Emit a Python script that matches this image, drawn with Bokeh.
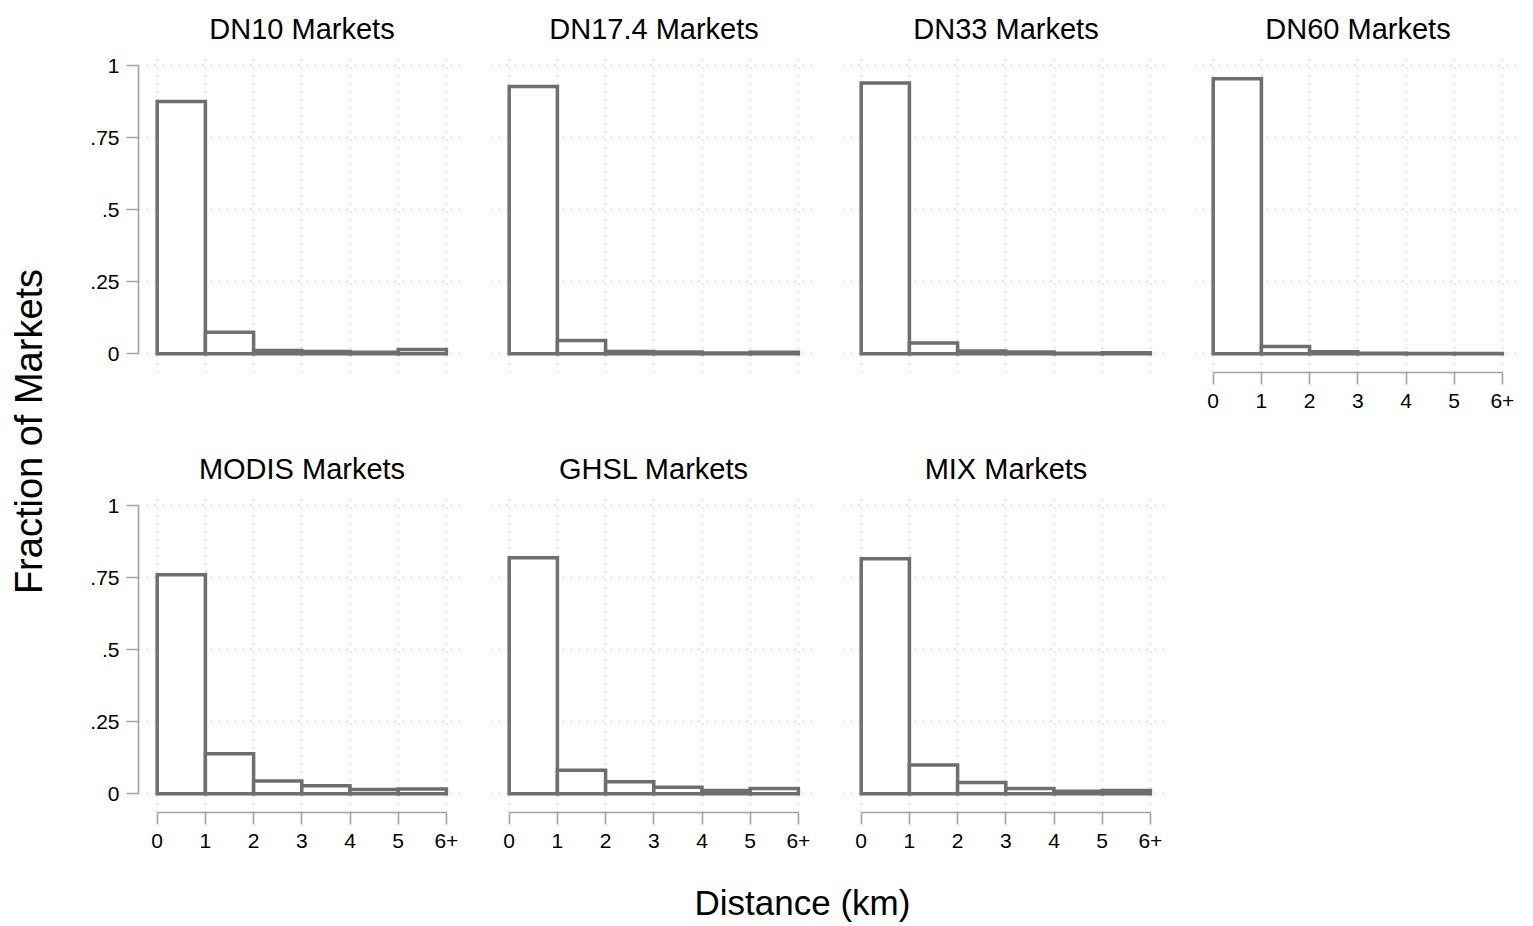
import math

from bokeh.embed import file_html
from bokeh.layouts import column, row
from bokeh.models import FixedTicker, Label, Range1d
from bokeh.plotting import figure
from bokeh.resources import INLINE

# ---- data -------------------------------------------------------------
panel_titles = ["DN10 Markets", "DN17.4 Markets", "DN33 Markets", "DN60 Markets",
                "MODIS Markets", "GHSL Markets", "MIX Markets"]
bin_edges = [0, 1, 2, 3, 4, 5, 6]
x_tick_labels = ["0", "1", "2", "3", "4", "5", "6+"]
y_ticks = [0, 0.25, 0.5, 0.75, 1]
y_tick_labels = ["0", ".25", ".5", ".75", "1"]

# fraction of markets in each 1 km distance bin (last bin = 5 km and beyond)
dn10_frac = [0.876, 0.075, 0.011, 0.008, 0.005, 0.015]
dn17_frac = [0.928, 0.046, 0.008, 0.006, 0.003, 0.005]
dn33_frac = [0.940, 0.037, 0.010, 0.006, 0.002, 0.004]
dn60_frac = [0.955, 0.025, 0.007, 0.002, 0.001, 0.001]
modis_frac = [0.760, 0.139, 0.044, 0.028, 0.015, 0.017]
ghsl_frac = [0.819, 0.082, 0.042, 0.023, 0.011, 0.018]
mix_frac = [0.816, 0.100, 0.039, 0.018, 0.009, 0.011]

y_axis_title = "Fraction of Markets"
x_axis_title = "Distance (km)"

# ---- style ------------------------------------------------------------
FONT = "Liberation Sans"
BAR_COLOR = "#6e6e6e"
AXIS_COLOR = "#a3a3a3"
GRID_COLOR = "#b8b8b8"
FRAME_W, FRAME_H = 327, 318
COL_GAP = 25


def style_axis(ax, ticks, labels, bounds):
    ax.ticker = FixedTicker(ticks=ticks)
    ax.major_label_overrides = {t: s for t, s in zip(ticks, labels)}
    ax.bounds = bounds
    ax.axis_line_color = AXIS_COLOR
    ax.axis_line_width = 1.6
    ax.major_tick_line_color = AXIS_COLOR
    ax.major_tick_line_width = 1.6
    ax.major_tick_out = 12
    ax.major_tick_in = 0
    ax.minor_tick_out = 0
    ax.minor_tick_in = 0
    ax.major_label_text_font = FONT
    ax.major_label_text_font_size = "21px"
    ax.major_label_text_color = "black"


def make_panel(title, fracs, border_left, border_right, show_x, show_y):
    p = figure(
        frame_width=FRAME_W, frame_height=FRAME_H,
        x_range=Range1d(-0.388, 6.396), y_range=Range1d(-0.065, 1.039),
        x_axis_location="below" if show_x else None,
        y_axis_location="left" if show_y else None,
        min_border_left=border_left, min_border_right=border_right,
        min_border_top=54, min_border_bottom=68,
        title=title, tools="", toolbar_location=None, output_backend="svg",
    )
    p.outline_line_color = None
    p.background_fill_color = "white"
    p.border_fill_color = "white"

    p.title.text_font = FONT
    p.title.text_font_size = "29px"
    p.title.text_font_style = "normal"
    p.title.text_color = "black"
    p.title.align = "center"
    p.title.standoff = 19

    p.xgrid.ticker = FixedTicker(ticks=bin_edges)
    p.ygrid.ticker = FixedTicker(ticks=y_ticks)
    for g in p.grid:
        g.grid_line_color = GRID_COLOR
        g.grid_line_width = 1.5
        g.grid_line_dash = "1 7"

    if show_x:
        style_axis(p.xaxis[0], bin_edges, x_tick_labels, (0, 6))
        p.xaxis[0].major_label_standoff = 9
    if show_y:
        style_axis(p.yaxis[0], y_ticks, y_tick_labels, (0, 1))
        p.yaxis[0].major_label_standoff = 7

    p.quad(left=bin_edges[:-1], right=bin_edges[1:], bottom=0, top=fracs,
           fill_color="white", line_color=BAR_COLOR, line_width=3.5,
           line_join="miter")
    return p


f1 = make_panel(panel_titles[0], dn10_frac, 58, COL_GAP, False, True)
f2 = make_panel(panel_titles[1], dn17_frac, 0, COL_GAP, False, False)
f3 = make_panel(panel_titles[2], dn33_frac, 0, COL_GAP, False, False)
f4 = make_panel(panel_titles[3], dn60_frac, 0, 5, True, False)
f5 = make_panel(panel_titles[4], modis_frac, 58, COL_GAP, True, True)
f6 = make_panel(panel_titles[5], ghsl_frac, 0, COL_GAP, True, False)
f7 = make_panel(panel_titles[6], mix_frac, 0, COL_GAP, True, False)


def blank(width, height):
    b = figure(width=width, height=height,
               x_range=Range1d(0, width), y_range=Range1d(0, height),
               x_axis_location=None, y_axis_location=None, min_border=0,
               tools="", toolbar_location=None, output_backend="svg")
    b.grid.visible = False
    b.outline_line_color = None
    return b


ylab = blank(80, 926)
ylab.add_layout(Label(x=28, y=495, text=y_axis_title, angle=math.pi / 2,
                      text_align="center", text_baseline="middle",
                      text_font=FONT, text_font_size="38px", text_color="black"))

xlab = blank(1446, 46)
xlab.add_layout(Label(x=722, y=24, text=x_axis_title,
                      text_align="center", text_baseline="middle",
                      text_font=FONT, text_font_size="35px", text_color="black"))

layout = row(ylab, column(row(f1, f2, f3, f4), row(f5, f6, f7), xlab))

with open("out.html", "w") as fh:
    fh.write(file_html(layout, INLINE, title="Distance histograms"))
